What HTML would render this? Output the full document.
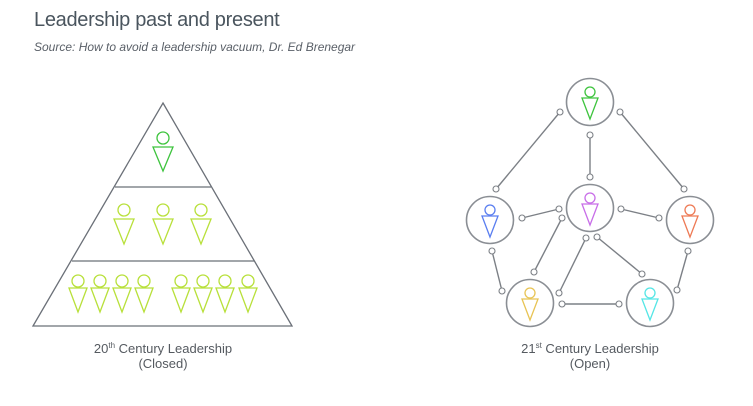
<!DOCTYPE html>
<html><head><meta charset="utf-8"><style>
html,body{margin:0;padding:0;background:#fff;}
body{width:753px;height:406px;overflow:hidden;position:relative;font-family:"Liberation Sans",sans-serif;}
.t{position:absolute;left:34px;top:9px;font-size:20px;color:#4a555e;letter-spacing:-0.3px;}
.s{position:absolute;left:34px;top:40px;font-size:12px;font-style:italic;color:#5a6068;}
</style></head><body>
<div class="t">Leadership past and present</div>
<div class="s">Source: How to avoid a leadership vacuum, Dr. Ed Brenegar</div>
<svg width="753" height="406" style="position:absolute;left:0;top:0" xmlns="http://www.w3.org/2000/svg">
<g fill="none" stroke="#6b7078" stroke-width="1.3">
<polygon points="163,103 292,326 33,326"/>
<line x1="115" y1="187" x2="211" y2="187"/>
<line x1="72" y1="261" x2="254" y2="261"/>
</g>
<g fill="none" stroke-width="1.3">
<g stroke="#3ec43e"><circle cx="163" cy="138" r="6"/><polygon points="153,147 173,147 163,171"/></g>
<g stroke="#b8e03a">
<circle cx="124" cy="210" r="6"/><polygon points="114,219 134,219 124,244"/>
<circle cx="163" cy="210" r="6"/><polygon points="153,219 173,219 163,244"/>
<circle cx="201" cy="210" r="6"/><polygon points="191,219 211,219 201,244"/>
<circle cx="78" cy="281" r="6"/><polygon points="69,288 87,288 78,312"/>
<circle cx="100" cy="281" r="6"/><polygon points="91,288 109,288 100,312"/>
<circle cx="122" cy="281" r="6"/><polygon points="113,288 131,288 122,312"/>
<circle cx="144" cy="281" r="6"/><polygon points="135,288 153,288 144,312"/>
<circle cx="181" cy="281" r="6"/><polygon points="172,288 190,288 181,312"/>
<circle cx="203" cy="281" r="6"/><polygon points="194,288 212,288 203,312"/>
<circle cx="225" cy="281" r="6"/><polygon points="216,288 234,288 225,312"/>
<circle cx="248" cy="281" r="6"/><polygon points="239,288 257,288 248,312"/>
</g>
</g>
<g stroke="#8a8e94" stroke-width="1.6" fill="none">
<circle cx="590" cy="102" r="23.5"/>
<circle cx="490" cy="220" r="23.5"/>
<circle cx="590" cy="208" r="23.5"/>
<circle cx="690" cy="220" r="23.5"/>
<circle cx="530" cy="303" r="23.5"/>
<circle cx="650" cy="303" r="23.5"/>
</g>
<g stroke="#7c8086" stroke-width="1.4" fill="#fff">
<line x1="560" y1="112" x2="496" y2="189"/>
<line x1="590" y1="135" x2="590" y2="177"/>
<line x1="620" y1="112" x2="684" y2="189"/>
<line x1="522" y1="218" x2="559" y2="209"/>
<line x1="621" y1="209" x2="659" y2="218"/>
<line x1="562" y1="218" x2="534" y2="272"/>
<line x1="586" y1="238" x2="559" y2="293"/>
<line x1="597" y1="237" x2="642" y2="274"/>
<line x1="492" y1="251" x2="502" y2="291"/>
<line x1="688" y1="251" x2="677" y2="290"/>
<line x1="562" y1="304" x2="619" y2="304"/>
<g stroke-width="1.1">
<circle cx="560" cy="112" r="3"/><circle cx="496" cy="189" r="3"/>
<circle cx="590" cy="135" r="3"/><circle cx="590" cy="177" r="3"/>
<circle cx="620" cy="112" r="3"/><circle cx="684" cy="189" r="3"/>
<circle cx="522" cy="218" r="3"/><circle cx="559" cy="209" r="3"/>
<circle cx="621" cy="209" r="3"/><circle cx="659" cy="218" r="3"/>
<circle cx="562" cy="218" r="3"/><circle cx="534" cy="272" r="3"/>
<circle cx="586" cy="238" r="3"/><circle cx="559" cy="293" r="3"/>
<circle cx="597" cy="237" r="3"/><circle cx="642" cy="274" r="3"/>
<circle cx="492" cy="251" r="3"/><circle cx="502" cy="291" r="3"/>
<circle cx="688" cy="251" r="3"/><circle cx="677" cy="290" r="3"/>
<circle cx="562" cy="304" r="3"/><circle cx="619" cy="304" r="3"/>
</g>
</g>
<g fill="none" stroke-width="1.3">
<g stroke="#3ec43e"><circle cx="590" cy="92" r="5"/><polygon points="582,98 598,98 590,119"/></g>
<g stroke="#5a7ef0"><circle cx="490" cy="210" r="5"/><polygon points="482,216 498,216 490,237"/></g>
<g stroke="#c86ee8"><circle cx="590" cy="198" r="5"/><polygon points="582,204 598,204 590,225"/></g>
<g stroke="#ee7a55"><circle cx="690" cy="210" r="5"/><polygon points="682,216 698,216 690,237"/></g>
<g stroke="#e8c455"><circle cx="530" cy="293" r="5"/><polygon points="522,299 538,299 530,320"/></g>
<g stroke="#55e6e6"><circle cx="650" cy="293" r="5"/><polygon points="642,299 658,299 650,320"/></g>
</g>
<g font-family="Liberation Sans, sans-serif" font-size="13" fill="#555a60" text-anchor="middle">
<text x="163" y="353">20<tspan font-size="8" dy="-5">th</tspan><tspan dy="5"> Century Leadership</tspan></text>
<text x="163" y="368">(Closed)</text>
<text x="590" y="353">21<tspan font-size="8" dy="-5">st</tspan><tspan dy="5"> Century Leadership</tspan></text>
<text x="590" y="368">(Open)</text>
</g>
</svg>
</body></html>
